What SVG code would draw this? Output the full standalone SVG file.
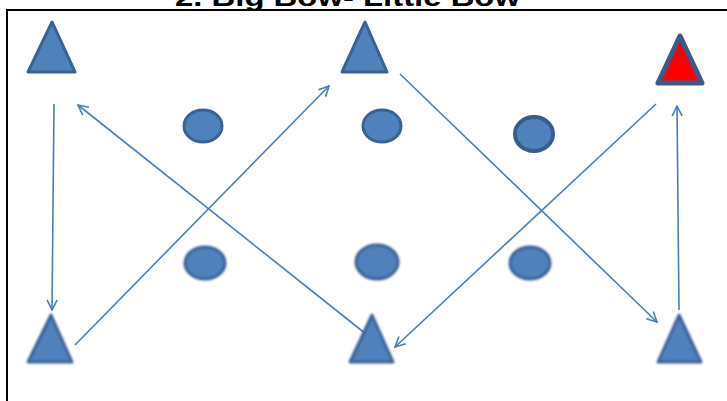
<svg xmlns="http://www.w3.org/2000/svg" width="727" height="401" viewBox="0 0 727 401">
<defs>
<style>
.tri{fill:#4f81bd;stroke:#3b6294;stroke-width:3;stroke-linejoin:round}
.red{fill:#ff0000;stroke:#3b5a87;stroke-width:5;stroke-linejoin:round}
.dot{fill:#4f81bd;stroke:#3b6294;stroke-width:3}
.dot2{fill:#4f81bd;stroke:#385d8a;stroke-width:4}
.con{stroke:#4a7ebb;stroke-width:1.6;fill:none;marker-end:url(#ah)}
.title{font-family:"Liberation Sans",Arial,sans-serif;font-weight:bold;font-size:26px;fill:#000}
</style>
<marker id="ah" viewBox="0 0 12 12" refX="11" refY="6" markerWidth="12" markerHeight="12" markerUnits="userSpaceOnUse" orient="auto">
<path d="M1,1 L11,6 L1,11" fill="none" stroke="#4a7ebb" stroke-width="1.6"/>
</marker>
<filter id="blur" x="-20%" y="-20%" width="140%" height="140%"><feGaussianBlur stdDeviation="1.2"/></filter>
</defs>
<rect width="727" height="401" fill="#fff"/>
<g id="title"><text class="title" x="175" y="6" textLength="345" lengthAdjust="spacingAndGlyphs">2.  Big Bow- Little Bow</text></g>
<g id="frame"><path d="M7,401 V10 H727" fill="none" stroke="#000" stroke-width="2"/></g>
<g id="connectors">
<line class="con" x1="54" y1="104" x2="52" y2="310"/>
<line class="con" x1="75" y1="345" x2="329" y2="86"/>
<line class="con" x1="366" y1="334" x2="78" y2="105"/>
<line class="con" x1="400" y1="74" x2="657" y2="322"/>
<line class="con" x1="656" y1="104" x2="395" y2="347"/>
<line class="con" x1="679" y1="310" x2="677" y2="106"/>
</g>
<g id="cone-top-left"><polygon class="tri" points="52,22 28,72 75,72"/></g>
<g id="cone-top-middle"><polygon class="tri" points="365,22 342,72 387,72"/></g>
<g id="cone-top-right"><polygon class="red" points="680,36 658,83 702,83"/></g>
<g id="cone-bottom-left"><polygon class="tri" points="51,315 28,362 72,362" filter="url(#blur)"/></g>
<g id="cone-bottom-middle"><polygon class="tri" points="372,315 350,362 393,362" filter="url(#blur)"/></g>
<g id="cone-bottom-right"><polygon class="tri" points="679,315 658,362 701,362" filter="url(#blur)"/></g>
<g id="dot-1"><ellipse class="dot" cx="203" cy="126" rx="19" ry="16"/></g>
<g id="dot-2"><ellipse class="dot" cx="382" cy="126" rx="19" ry="16"/></g>
<g id="dot-3"><ellipse class="dot2" cx="534" cy="134" rx="19" ry="17"/></g>
<g id="dot-4"><ellipse class="dot" cx="205" cy="263" rx="20" ry="16" filter="url(#blur)"/></g>
<g id="dot-5"><ellipse class="dot" cx="377" cy="262" rx="21" ry="17" filter="url(#blur)"/></g>
<g id="dot-6"><ellipse class="dot" cx="530" cy="263" rx="20" ry="16" filter="url(#blur)"/></g>
</svg>
